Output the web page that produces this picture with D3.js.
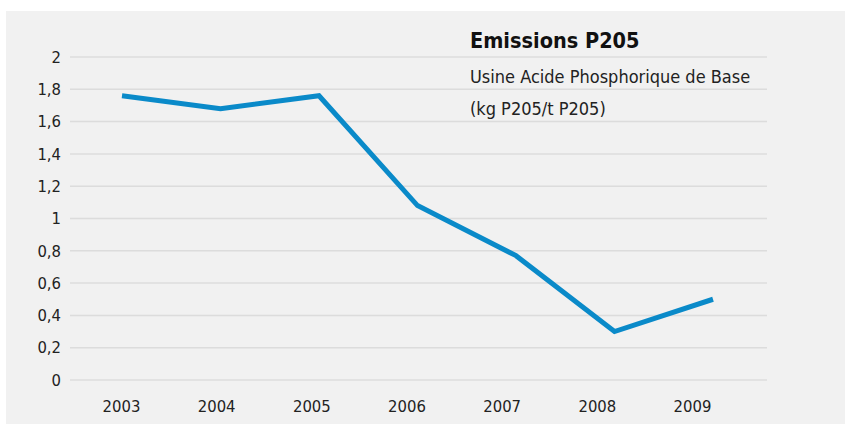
<!DOCTYPE html>
<html><head><meta charset="utf-8">
<script src="https://cdn.jsdelivr.net/npm/d3@7"></script>
<style>body{margin:0;background:#fff}svg{display:block}</style>
</head><body>
<svg id="c" width="845" height="424"></svg>
<script>
const years = ["2003","2004","2005","2006","2007","2008","2009"];
const values = [1.76, 1.68, 1.76, 1.08, 0.77, 0.30, 0.50];
const yTicks = [0, 0.2, 0.4, 0.6, 0.8, 1, 1.2, 1.4, 1.6, 1.8, 2];
const title = "Emissions P205";
const subtitle = ["Usine Acide Phosphorique de Base", "(kg P205/t P205)"];

const font = "'Liberation Sans Narrow','DejaVu Sans Condensed','Roboto',sans-serif";
const svg = d3.select("#c");
svg.append("rect").attr("x",6).attr("y",11).attr("width",845).attr("height",424).attr("fill","#f1f1f1");

const y = d3.scaleLinear().domain([0,2]).range([380,57]);
const xLine = d3.scalePoint().domain(years).range([122,713]);
const xLab = d3.scalePoint().domain(years).range([121,692]);

// grid
svg.append("g").selectAll("line").data(yTicks).join("line")
  .attr("x1",70).attr("x2",767)
  .attr("y1",d=>y(d)).attr("y2",d=>y(d))
  .attr("stroke","#dcdcdc").attr("stroke-width",1.5);

// y axis labels
const yAxis = d3.axisLeft(y).tickValues(yTicks).tickSize(0).tickPadding(0)
  .tickFormat(d=>String(d).replace(".",","));
const gy = svg.append("g").attr("transform","translate(61,0)").call(yAxis);
gy.select(".domain").remove();
gy.selectAll("text").attr("font-family",font).attr("font-size",16.5).attr("fill","#222");

// x axis labels
const xAxis = d3.axisBottom(xLab).tickSize(0).tickPadding(0);
const gx = svg.append("g").attr("transform","translate(0,400)").call(xAxis);
gx.select(".domain").remove();
gx.selectAll("text").attr("font-family",font).attr("font-size",16.5).attr("fill","#222").attr("dy","0.71em");

// line
const line = d3.line().x((d,i)=>xLine(years[i])).y(d=>y(d));
svg.append("path").datum(values).attr("d",line)
  .attr("fill","none").attr("stroke","#0a8ac9").attr("stroke-width",5)
  .attr("stroke-linejoin","miter");

// title
svg.append("text").attr("x",470).attr("y",48).text(title)
  .attr("font-family",font).attr("font-weight","bold").attr("font-size",21.5).attr("fill","#111");
subtitle.forEach((s,i)=>{
  svg.append("text").attr("x",470).attr("y",83+i*32).text(s)
    .attr("font-family",font).attr("font-size",18).attr("fill","#222");
});
</script>
</body></html>
